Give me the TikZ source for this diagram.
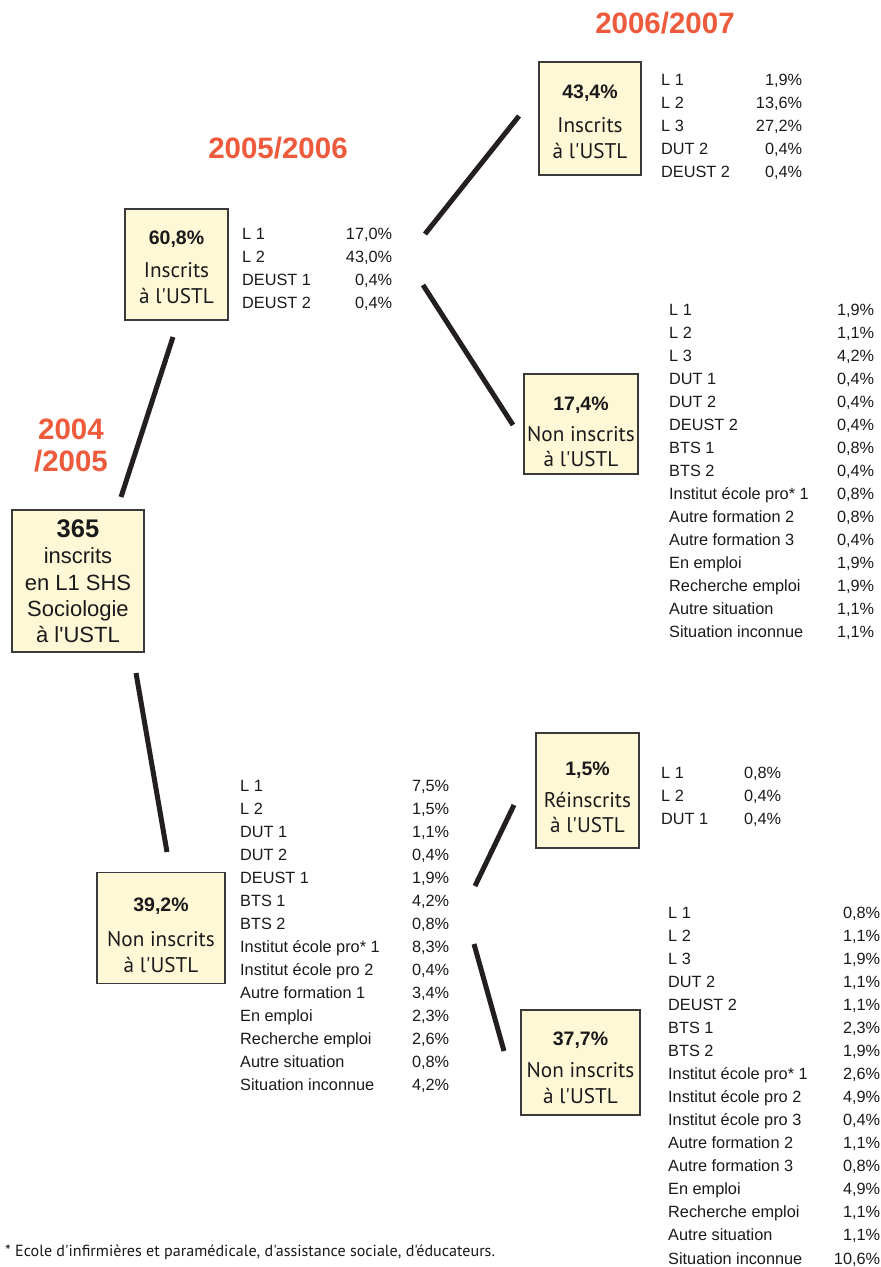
\documentclass[tikz,border=0pt]{standalone}
\usepackage{fontspec}
\setmainfont{Liberation Sans}[Ligatures=TeXOff]
\newfontfamily\myr{PT Sans}[Ligatures=TeXOff]
\definecolor{yeared}{HTML}{EE5A3C}
\definecolor{boxfill}{HTML}{FFF8D6}
\definecolor{boxline}{HTML}{3A3A3A}
\definecolor{linkcol}{HTML}{231F20}
\definecolor{txt}{HTML}{1A1A1A}
\newcommand\mylist[6]{% name, x, y0, W, spacing, items
  \foreach \a/\b [count=\i from 0] in {#6} {
    \node[rowtxt] (#1-\i) at (#2,{#3+#5*\i}) {\makebox[#4pt][l]{\a}\llap{\b}};
  }}
\begin{document}
\begin{tikzpicture}[x=1pt,y=-1pt,
  box/.style={draw=boxline, line width=1.2pt, fill=boxfill, inner sep=0pt},
  rowtxt/.style={anchor=base west, inner sep=0pt, text=txt, font=\fontsize{16.3}{18}\selectfont},
  pct/.style={anchor=base, inner sep=0pt, text=txt, font=\bfseries\fontsize{19.5}{22}\selectfont},
  lbl/.style={anchor=base, inner sep=0pt, text=txt, font=\myr\fontsize{21.2}{24}\selectfont},
  rootlbl/.style={anchor=base, inner sep=0pt, text=txt, font=\fontsize{22}{26}\selectfont},
  year/.style={anchor=base, inner sep=0pt, text=yeared, font=\bfseries\fontsize{29.5}{32}\selectfont},
  link/.style={draw=linkcol, line width=5pt}]
\useasboundingbox (0,0) rectangle (881,1267);

% years
\node[year] (y1) at (665,33) {2006/2007};
\node[year] (y2) at (278,158) {2005/2006};
\node[year] (y3) at (71,439) {2004};
\node[year] (y4) at (71,471) {/2005};

% boxes
\node[box, minimum width=132pt, minimum height=142pt] (root) at (78,581) {};
\node[box, minimum width=103pt, minimum height=111pt] (b608) at (176.5,264.5) {};
\node[box, minimum width=102pt, minimum height=113pt] (b434) at (590,118.5) {};
\node[box, minimum width=114pt, minimum height=100pt] (b174) at (581,424) {};
\node[box, minimum width=103pt, minimum height=115pt] (b15) at (587.5,790.5) {};
\node[box, minimum width=128pt, minimum height=111pt] (b392) at (161,928) {};
\node[box, minimum width=119pt, minimum height=105pt] (b377) at (580.5,1062.5) {};

% box texts
\node[font=\bfseries\fontsize{25.5}{28}\selectfont, anchor=base, inner sep=0pt, text=txt] (r1) at (78,537) {365};
\node[rootlbl] (r2) at (78,563) {inscrits};
\node[rootlbl] (r3) at (78,590) {en L1 SHS};
\node[rootlbl] (r4) at (78,616) {Sociologie};
\node[rootlbl] (r5) at (78,642) {à l'USTL};

\node[pct] (p608) at (176.5,244) {60,8\%};
\node[lbl] (l608a) at (176.5,277) {Inscrits};
\node[lbl] (l608b) at (176.5,303) {à l'USTL};

\node[pct] (p434) at (590,98) {43,4\%};
\node[lbl] (l434a) at (590,132) {Inscrits};
\node[lbl] (l434b) at (590,158) {à l'USTL};

\node[pct] (p174) at (581,410) {17,4\%};
\node[lbl] (l174a) at (581,441) {Non inscrits};
\node[lbl] (l174b) at (581,466) {à l'USTL};

\node[pct] (p15) at (587.5,775) {1,5\%};
\node[lbl] (l15a) at (587.5,807) {Réinscrits};
\node[lbl] (l15b) at (587.5,832) {à l'USTL};

\node[pct] (p392) at (161,911) {39,2\%};
\node[lbl] (l392a) at (161,946) {Non inscrits};
\node[lbl] (l392b) at (161,972) {à l'USTL};

\node[pct] (p377) at (580.5,1045) {37,7\%};
\node[lbl] (l377a) at (580.5,1077) {Non inscrits};
\node[lbl] (l377b) at (580.5,1103) {à l'USTL};

% connectors
\coordinate (c1a) at (121,497); \coordinate (c1b) at (173,337);
\coordinate (c2a) at (136,673); \coordinate (c2b) at (167,852);
\coordinate (c3a) at (425,234); \coordinate (c3b) at (519,116);
\coordinate (c4a) at (423,285); \coordinate (c4b) at (513,425);
\coordinate (c5a) at (475,886); \coordinate (c5b) at (514,805);
\coordinate (c6a) at (474,944); \coordinate (c6b) at (504,1051);
\draw[link] (c1a) -- (c1b);
\draw[link] (c2a) -- (c2b);
\draw[link] (c3a) -- (c3b);
\draw[link] (c4a) -- (c4b);
\draw[link] (c5a) -- (c5b);
\draw[link] (c6a) -- (c6b);

% lists
\mylist{t608}{242}{239}{150}{23}{L 1/{17,0\%}, L 2/{43,0\%}, DEUST 1/{0,4\%}, DEUST 2/{0,4\%}}
\mylist{t434}{661}{85}{141}{23}{L 1/{1,9\%}, L 2/{13,6\%}, L 3/{27,2\%}, DUT 2/{0,4\%}, DEUST 2/{0,4\%}}
\mylist{t174}{669}{315}{205}{23}{L 1/{1,9\%}, L 2/{1,1\%}, L 3/{4,2\%}, DUT 1/{0,4\%}, DUT 2/{0,4\%}, DEUST 2/{0,4\%}, BTS 1/{0,8\%}, BTS 2/{0,4\%}, Institut école pro* 1/{0,8\%}, Autre formation 2/{0,8\%}, Autre formation 3/{0,4\%}, En emploi/{1,9\%}, Recherche emploi/{1,9\%}, Autre situation/{1,1\%}, Situation inconnue/{1,1\%}}
\mylist{t15}{661}{778}{120}{23}{L 1/{0,8\%}, L 2/{0,4\%}, DUT 1/{0,4\%}}
\mylist{t392}{240}{791}{209}{23}{L 1/{7,5\%}, L 2/{1,5\%}, DUT 1/{1,1\%}, DUT 2/{0,4\%}, DEUST 1/{1,9\%}, BTS 1/{4,2\%}, BTS 2/{0,8\%}, Institut école pro* 1/{8,3\%}, Institut école pro 2/{0,4\%}, Autre formation 1/{3,4\%}, En emploi/{2,3\%}, Recherche emploi/{2,6\%}, Autre situation/{0,8\%}, Situation inconnue/{4,2\%}}
\mylist{t377}{668}{918}{212}{23.07}{L 1/{0,8\%}, L 2/{1,1\%}, L 3/{1,9\%}, DUT 2/{1,1\%}, DEUST 2/{1,1\%}, BTS 1/{2,3\%}, BTS 2/{1,9\%}, Institut école pro* 1/{2,6\%}, Institut école pro 2/{4,9\%}, Institut école pro 3/{0,4\%}, Autre formation 2/{1,1\%}, Autre formation 3/{0,8\%}, En emploi/{4,9\%}, Recherche emploi/{1,1\%}, Autre situation/{1,1\%}, Situation inconnue/{10,6\%}}

% footnote
\node[anchor=base west, inner sep=0pt, text=txt, font=\myr\fontsize{16.1}{18}\selectfont] (fn) at (5,1256) {* Ecole d'infirmières et paramédicale, d'assistance sociale, d'éducateurs.};
\end{tikzpicture}
\end{document}
